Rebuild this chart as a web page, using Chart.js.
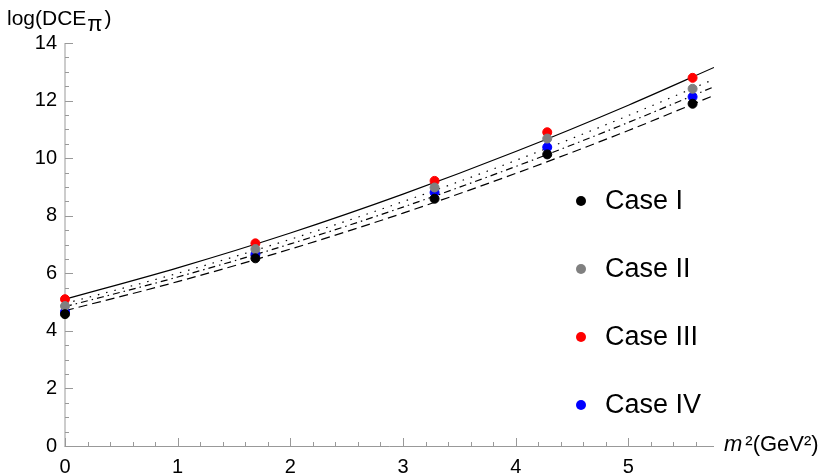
<!DOCTYPE html>
<html>
<head>
<meta charset="utf-8">
<script src="https://cdn.jsdelivr.net/npm/chart.js@4.4.1/dist/chart.umd.min.js"></script>
<style>
  html, body { margin: 0; padding: 0; background: #fff; }
  #wrap { width: 834px; height: 474px; }
</style>
</head>
<body>
<div id="wrap"><canvas id="dce" width="834" height="474"></canvas></div>
<script>
(function () {
	'use strict';

	// pion masses squared (GeV^2) and log(DCE) per case
	var masses = [0, 1.69, 3.28, 4.28, 5.57];
	var caseI = [4.58, 6.52, 8.59, 10.13, 11.89];
	var caseII = [4.86, 6.84, 8.98, 10.68, 12.41];
	var caseIII = [5.10, 7.04, 9.21, 10.90, 12.79];
	var caseIV = [4.66, 6.66, 8.81, 10.38, 12.13];

	// fitted curves
	var fitX = [0, 1, 2, 3, 4, 5, 5.76];
	var fitI = [4.70, 5.71, 6.84, 8.09, 9.47, 10.96, 12.18];
	var fitII = [4.95, 6.00, 7.18, 8.49, 9.92, 11.48, 12.74];
	var fitIII = [5.10, 6.19, 7.40, 8.75, 10.23, 11.84, 13.15];
	var fitIV = [4.84, 5.87, 7.02, 8.30, 9.71, 11.24, 12.48];

	var xTicks = [0, 1, 2, 3, 4, 5];
	var yTicks = [0, 2, 4, 6, 8, 10, 12, 14];

	var FONT = 'Liberation Sans, Arial, sans-serif';

	function pts(xs, ys) {
		return xs.map(function (x, i) { return { x: x, y: ys[i] }; });
	}

	function caseSet(label, ys, color) {
		return {
			type: 'scatter', label: label, data: pts(masses, ys),
			backgroundColor: color, borderColor: color,
			pointRadius: 4.5, pointHoverRadius: 4.5, clip: false, order: 0
		};
	}

	function fitSet(ys, dash) {
		return {
			type: 'line', data: pts(fitX, ys), borderColor: '#000', borderWidth: 1.2,
			borderDash: dash, pointRadius: 0, cubicInterpolationMode: 'monotone',
			fill: false, order: 1, isFit: true
		};
	}

	// axes with inward ticks, axis titles and the inset legend
	var decorations = {
		id: 'decorations',
		beforeDatasetsDraw: function (chart) {
			var ctx = chart.ctx;
			var xs = chart.scales.x, ys = chart.scales.y;
			var x0 = xs.left, y0 = ys.bottom;
			ctx.save();
			ctx.strokeStyle = '#999';
			ctx.lineWidth = 1;
			ctx.beginPath();
			ctx.moveTo(x0, ys.top); ctx.lineTo(x0, y0 + 0.5);
			ctx.moveTo(x0 - 0.5, y0 + 0.5); ctx.lineTo(xs.right, y0 + 0.5);
			var v, p;
			for (v = 0; v <= 5.76 + 1e-9; v += 0.2) {
				p = Math.round(xs.getPixelForValue(v)) + 0.5;
				var major = Math.abs(v - Math.round(v)) < 1e-6;
				ctx.moveTo(p, y0); ctx.lineTo(p, y0 - (major ? 8 : 4));
			}
			for (v = 0; v <= 14 + 1e-9; v += 0.5) {
				p = Math.round(ys.getPixelForValue(v)) + 0.5;
				var maj = Math.abs(v / 2 - Math.round(v / 2)) < 1e-6;
				ctx.moveTo(x0, p); ctx.lineTo(x0 + (maj ? 8 : 4), p);
			}
			ctx.stroke();
			ctx.restore();
		},
		afterDraw: function (chart) {
			var ctx = chart.ctx;
			ctx.save();
			ctx.fillStyle = '#000';
			ctx.textBaseline = 'alphabetic';
			// y title
			ctx.font = '21px ' + FONT;
			ctx.fillText('log(DCE', 7, 25);
			var w = ctx.measureText('log(DCE').width;
			ctx.font = '22px ' + FONT;
			ctx.fillText('\u03c0', 7 + w + 1, 31);
			var w2 = ctx.measureText('\u03c0').width;
			ctx.font = '21px ' + FONT;
			ctx.fillText(')', 7 + w + w2 + 3, 25);
			// x title
			ctx.font = 'italic 22px ' + FONT;
			ctx.fillText('m', 724, 451);
			var mw = ctx.measureText('m').width;
			ctx.font = '22px ' + FONT;
			ctx.fillText('\u00b2(GeV\u00b2)', 724 + mw + 3, 451);
			// legend
			var rows = chart.data.datasets.filter(function (d) { return !d.isFit; });
			var legendY = [201, 269, 337, 405];
			ctx.font = '27px ' + FONT;
			ctx.textBaseline = 'middle';
			rows.forEach(function (d, i) {
				ctx.fillStyle = d.backgroundColor;
				ctx.beginPath();
				ctx.arc(581, legendY[i], 5, 0, Math.PI * 2);
				ctx.fill();
				ctx.fillStyle = '#000';
				ctx.fillText(d.label, 605, legendY[i] + 1);
			});
			ctx.restore();
		}
	};

	var chartEl = new Chart(document.getElementById('dce').getContext('2d'), {
		data: {
			datasets: [
				caseSet('Case I', caseI, '#000000'),
				caseSet('Case II', caseII, '#808080'),
				caseSet('Case III', caseIII, '#ff0000'),
				caseSet('Case IV', caseIV, '#0000ff'),
				fitSet(fitIII, []),
				fitSet(fitII, [1.5, 7]),
				fitSet(fitIV, [7, 4, 1.5, 4]),
				fitSet(fitI, [9, 5])
			]
		},
		options: {
			responsive: false,
			animation: false,
			events: [],
			layout: { padding: { top: 43, right: 120, left: 0, bottom: 0 } },
			plugins: { legend: { display: false }, tooltip: { enabled: false } },
			scales: {
				x: {
					type: 'linear', min: 0, max: 5.76,
					grid: { display: false, drawTicks: false }, border: { display: false },
					afterBuildTicks: function (s) { s.ticks = xTicks.map(function (v) { return { value: v }; }); },
					afterFit: function (s) { s.height = 28; },
					ticks: { color: '#000', padding: 9, maxRotation: 0, font: { family: FONT, size: 20 } }
				},
				y: {
					type: 'linear', min: 0, max: 14,
					grid: { display: false, drawTicks: false }, border: { display: false },
					afterBuildTicks: function (s) { s.ticks = yTicks.map(function (v) { return { value: v }; }); },
					afterFit: function (s) { s.width = 65; },
					ticks: { color: '#000', padding: 8, font: { family: FONT, size: 20 } }
				}
			}
		},
		plugins: [decorations]
	});
})();
</script>
</body>
</html>
